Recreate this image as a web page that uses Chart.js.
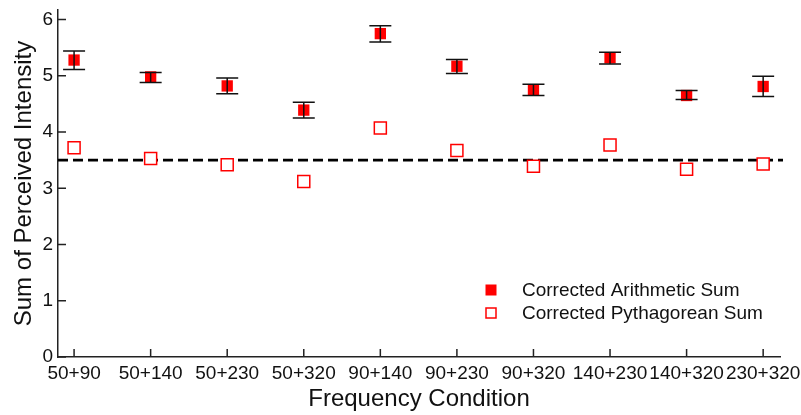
<!DOCTYPE html>
<html>
<head>
<meta charset="utf-8">
<script src="https://cdn.jsdelivr.net/npm/chart.js@4.4.1/dist/chart.umd.min.js"></script>
<style>
  body { margin: 0; background: #fff; }
  #wrap { width: 801px; height: 415px; }
</style>
</head>
<body>
<div id="wrap"><canvas id="chart"></canvas></div>
<script>
const conditions = ['50+90', '50+140', '50+230', '50+320', '90+140', '90+230', '90+320', '140+230', '140+320', '230+320'];
const arithmetic = [5.28, 4.98, 4.82, 4.39, 5.75, 5.17, 4.75, 5.32, 4.65, 4.81];
const arithLow  = [5.11, 4.88, 4.68, 4.25, 5.60, 5.04, 4.65, 5.21, 4.58, 4.63];
const arithHigh = [5.44, 5.06, 4.96, 4.53, 5.89, 5.29, 4.85, 5.42, 4.74, 4.99];
const pythagorean = [3.72, 3.53, 3.42, 3.12, 4.07, 3.67, 3.39, 3.77, 3.34, 3.43];
const referenceLevel = 3.5;
const yTicks = [0, 1, 2, 3, 4, 5, 6];

const axisColor = '#222';

// error bars, inner ticks, dashed reference line, legend
const extras = {
    id: 'extras',
    beforeDatasetsDraw(chart) {
        const ctx = chart.ctx;
        const area = chart.chartArea;
        const y = chart.scales.y.getPixelForValue(referenceLevel);
        ctx.save();
        ctx.strokeStyle = '#000';
        ctx.lineWidth = 2.8;
        ctx.setLineDash([10, 5]);
        ctx.beginPath();
        ctx.moveTo(area.left, y);
        ctx.lineTo(area.right + 3, y);
        ctx.stroke();
        ctx.restore();
    },
    afterDatasetsDraw(chart) {
        const ctx = chart.ctx;
        const xs = chart.scales.x, ys = chart.scales.y;
        const area = chart.chartArea;
        ctx.save();
        // error bars
        ctx.strokeStyle = '#111';
        ctx.lineWidth = 1.5;
        arithmetic.forEach((v, i) => {
            const x = xs.getPixelForValue(i);
            const y1 = ys.getPixelForValue(arithLow[i]);
            const y2 = ys.getPixelForValue(arithHigh[i]);
            ctx.beginPath();
            ctx.moveTo(x, y1); ctx.lineTo(x, y2);
            ctx.moveTo(x - 11, y1); ctx.lineTo(x + 11, y1);
            ctx.moveTo(x - 11, y2); ctx.lineTo(x + 11, y2);
            ctx.stroke();
        });
        // inner ticks
        ctx.strokeStyle = axisColor;
        ctx.lineWidth = 1.5;
        ctx.beginPath();
        yTicks.forEach(t => {
            const y = ys.getPixelForValue(t);
            ctx.moveTo(area.left, y); ctx.lineTo(area.left + 8, y);
        });
        conditions.forEach((c, i) => {
            const x = xs.getPixelForValue(i);
            ctx.moveTo(x, area.bottom); ctx.lineTo(x, area.bottom - 8);
        });
        ctx.stroke();
        // legend
        const lx = 491, rows = [290, 313];
        ctx.font = '19px "Liberation Sans", Arial, sans-serif';
        ctx.textBaseline = 'middle';
        chart.data.datasets.forEach((ds, i) => {
            const ly = rows[i];
            if (i === 0) {
                ctx.fillStyle = '#ff0000';
                ctx.fillRect(lx - 5.5, ly - 5.5, 11, 11);
            } else {
                ctx.strokeStyle = '#ff0000';
                ctx.lineWidth = 1.5;
                ctx.strokeRect(lx - 5, ly - 5, 10, 10);
            }
            ctx.fillStyle = '#111';
            ctx.fillText(ds.label, 522, ly + 1);
        });
        ctx.restore();
    }
};

function noPad(scale) {
    scale.paddingTop = 0;
    scale.paddingBottom = 0;
    scale.paddingLeft = 0;
    scale.paddingRight = 0;
}

new Chart(document.getElementById('chart'), {
    type: 'scatter',
    data: {
        datasets: [{
            label: 'Corrected Arithmetic Sum',
            data: arithmetic.map((v, i) => ({ x: i, y: v })),
            pointStyle: 'rect',
            pointRadius: 8,
            backgroundColor: '#ff0000',
            borderColor: '#ff0000',
            borderWidth: 0
        }, {
            label: 'Corrected Pythagorean Sum',
            data: pythagorean.map((v, i) => ({ x: i, y: v })),
            pointStyle: 'rect',
            pointRadius: 8.5,
            backgroundColor: '#fff',
            borderColor: '#ff0000',
            borderWidth: 1.5
        }]
    },
    options: {
        responsive: true,
        maintainAspectRatio: false,
        animation: false,
        events: [],
        layout: { padding: { top: 5, right: 21, left: 0, bottom: 0 } },
        plugins: { legend: { display: false }, tooltip: { enabled: false } },
        scales: {
            x: {
                type: 'linear',
                min: -0.21,
                max: 9.22,
                afterFit(scale) { scale.height = 58; noPad(scale); },
                afterBuildTicks(scale) { scale.ticks = conditions.map((c, i) => ({ value: i })); },
                grid: { display: false, drawTicks: false },
                border: { display: true, color: axisColor, width: 1.5 },
                ticks: {
                    padding: 5,
                    color: '#111',
                    maxRotation: 0,
                    autoSkip: false,
                    font: { family: '"Liberation Sans", Arial, sans-serif', size: 19 },
                    callback: v => conditions[v]
                },
                title: {
                    display: true,
                    text: 'Frequency Condition',
                    color: '#111',
                    padding: { top: 0, bottom: 1 },
                    font: { family: '"Liberation Sans", Arial, sans-serif', size: 24 }
                }
            },
            y: {
                min: 0,
                max: 6.17,
                afterFit(scale) { scale.width = 58; noPad(scale); },
                afterBuildTicks(scale) { scale.ticks = yTicks.map(v => ({ value: v })); },
                grid: { display: false, drawTicks: false },
                border: { display: true, color: axisColor, width: 1.5 },
                ticks: {
                    padding: 5,
                    color: '#111',
                    font: { family: '"Liberation Sans", Arial, sans-serif', size: 19 }
                },
                title: {
                    display: true,
                    text: 'Sum of Perceived Intensity',
                    color: '#111',
                    padding: { top: 10, bottom: 4 },
                    font: { family: '"Liberation Sans", Arial, sans-serif', size: 24 }
                }
            }
        }
    },
    plugins: [extras]
});
</script>
</body>
</html>
